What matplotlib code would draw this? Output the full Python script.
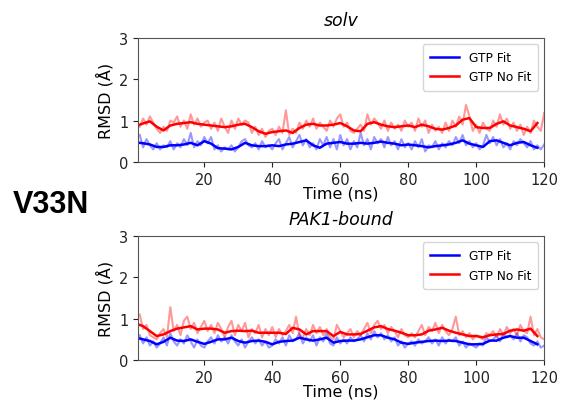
import numpy as np
import matplotlib
matplotlib.use("Agg")
import matplotlib.pyplot as plt

# time axis (ns)
time_raw = np.arange(1, 121)
time_smooth = [1] + list(range(2, 119, 2))

# solv panel
solv_fit_raw = [
    0.65, 0.35, 0.55, 0.40, 0.30, 0.45, 0.30, 0.40, 0.35, 0.50,
    0.30, 0.45, 0.35, 0.55, 0.40, 0.70, 0.35, 0.50, 0.40, 0.60,
    0.45, 0.60, 0.30, 0.40, 0.25, 0.35, 0.30, 0.40, 0.25, 0.35,
    0.50, 0.55, 0.40, 0.35, 0.45, 0.30, 0.50, 0.35, 0.40, 0.30,
    0.45, 0.55, 0.30, 0.45, 0.60, 0.35, 0.50, 0.65, 0.40, 0.55,
    0.35, 0.45, 0.30, 0.55, 0.40, 0.60, 0.35, 0.55, 0.30, 0.65,
    0.40, 0.55, 0.30, 0.50, 0.35, 0.70, 0.40, 0.55, 0.30, 0.60,
    0.45, 0.55, 0.35, 0.60, 0.40, 0.50, 0.30, 0.55, 0.35, 0.45,
    0.30, 0.50, 0.35, 0.55, 0.25, 0.40, 0.35, 0.50, 0.30, 0.45,
    0.35, 0.50, 0.40, 0.60, 0.45, 0.65, 0.40, 0.50, 0.35, 0.45,
    0.30, 0.40, 0.65, 0.45, 0.60, 0.40, 0.55, 0.35, 0.45, 0.30,
    0.50, 0.40, 0.55, 0.45, 0.35, 0.50, 0.30, 0.40, 0.30, 0.42]
solv_nofit_raw = [
    0.85, 1.05, 0.90, 1.10, 0.95, 0.80, 0.70, 0.85, 0.75, 1.00,
    0.95, 1.10, 0.85, 1.00, 0.80, 1.15, 0.90, 1.05, 0.85, 0.95,
    1.00, 0.80, 0.95, 0.75, 1.05, 0.85, 0.70, 1.00, 0.80, 1.05,
    0.90, 1.00, 0.95, 0.70, 0.85, 0.65, 0.80, 0.60, 0.75, 0.80,
    0.65, 0.85, 0.70, 1.25, 0.65, 0.80, 0.70, 0.95, 0.80, 1.00,
    0.85, 1.05, 0.80, 0.95, 0.85, 0.75, 1.00, 0.85, 1.05, 1.15,
    0.85, 0.95, 0.75, 0.70, 0.80, 0.90, 0.75, 1.15, 0.90, 1.05,
    0.95, 0.80, 1.00, 0.75, 0.95, 0.80, 0.90, 0.75, 1.00, 0.85,
    0.95, 0.75, 1.05, 0.85, 1.00, 0.70, 0.90, 0.75, 0.85, 0.70,
    0.95, 0.75, 1.00, 0.85, 1.10, 0.90, 1.38, 1.10, 0.75, 0.90,
    0.70, 0.95, 0.80, 0.75, 1.00, 0.85, 1.15, 0.90, 1.05, 0.80,
    0.95, 0.75, 0.90, 0.65, 0.85, 0.70, 1.00, 0.85, 0.75, 1.18]
solv_fit_smooth = [
    0.46, 0.45, 0.42, 0.36, 0.36, 0.40, 0.40, 0.42, 0.46, 0.40,
    0.50, 0.44, 0.33, 0.32, 0.30, 0.36, 0.46, 0.40, 0.38, 0.38,
    0.40, 0.38, 0.42, 0.44, 0.48, 0.52, 0.40, 0.34, 0.44, 0.46,
    0.48, 0.44, 0.44, 0.46, 0.44, 0.46, 0.49, 0.46, 0.44, 0.40,
    0.42, 0.40, 0.38, 0.35, 0.38, 0.40, 0.42, 0.46, 0.52, 0.44,
    0.40, 0.36, 0.50, 0.52, 0.46, 0.40, 0.46, 0.48, 0.40, 0.34]
solv_nofit_smooth = [
    0.90, 0.93, 0.98, 0.85, 0.76, 0.88, 0.92, 0.94, 0.96, 0.92,
    0.90, 0.88, 0.86, 0.84, 0.86, 0.90, 0.92, 0.84, 0.74, 0.68,
    0.72, 0.74, 0.76, 0.70, 0.82, 0.90, 0.92, 0.88, 0.88, 0.90,
    0.94, 0.86, 0.76, 0.74, 0.92, 0.96, 0.90, 0.86, 0.84, 0.86,
    0.88, 0.84, 0.90, 0.86, 0.80, 0.78, 0.82, 0.88, 1.02, 1.06,
    0.84, 0.82, 0.82, 0.92, 0.98, 0.88, 0.84, 0.80, 0.74, 0.94]

# PAK1-bound panel
pak_fit_raw = [
    0.60, 0.40, 0.55, 0.35, 0.45, 0.30, 0.40, 0.55, 0.35, 0.65,
    0.45, 0.35, 0.50, 0.40, 0.60, 0.45, 0.30, 0.50, 0.35, 0.30,
    0.45, 0.55, 0.40, 0.60, 0.45, 0.55, 0.40, 0.60, 0.45, 0.35,
    0.50, 0.30, 0.45, 0.55, 0.40, 0.50, 0.35, 0.45, 0.30, 0.35,
    0.50, 0.40, 0.55, 0.35, 0.60, 0.45, 0.50, 0.65, 0.40, 0.55,
    0.45, 0.60, 0.35, 0.55, 0.45, 0.65, 0.40, 0.35, 0.55, 0.40,
    0.50, 0.40, 0.55, 0.45, 0.50, 0.60, 0.45, 0.65, 0.50, 0.70,
    0.55, 0.65, 0.50, 0.60, 0.45, 0.55, 0.35, 0.45, 0.30, 0.40,
    0.45, 0.35, 0.50, 0.40, 0.45, 0.55, 0.40, 0.50, 0.35, 0.55,
    0.40, 0.50, 0.45, 0.55, 0.35, 0.45, 0.30, 0.40, 0.35, 0.30,
    0.40, 0.35, 0.55, 0.45, 0.50, 0.60, 0.45, 0.65, 0.55, 0.60,
    0.50, 0.65, 0.45, 0.60, 0.55, 0.40, 0.35, 0.45, 0.30, 0.35]
pak_nofit_raw = [
    1.10, 0.75, 0.85, 0.60, 0.55, 0.50, 0.65, 0.75, 0.55, 1.28,
    0.70, 0.85, 0.60, 0.95, 1.05, 0.75, 0.90, 0.65, 0.80, 0.95,
    0.70, 0.85, 0.65, 0.90, 0.75, 0.55, 0.80, 0.95, 0.60, 0.85,
    0.70, 0.90, 0.55, 0.75, 0.65, 0.85, 0.55, 0.75, 0.60, 0.80,
    0.55, 0.75, 0.60, 0.70, 0.85, 0.65, 1.05, 0.60, 0.55, 0.75,
    0.60, 0.85, 0.65, 0.80, 0.60, 0.75, 0.55, 0.50, 0.85, 0.70,
    0.55, 0.65, 0.75, 0.55, 0.70, 0.60, 0.75, 0.90, 0.65, 0.85,
    0.95, 0.75, 0.85, 0.65, 0.80, 0.70, 0.55, 0.75, 0.60, 0.55,
    0.65, 0.55, 0.70, 0.85, 0.60, 0.80, 0.70, 0.90, 0.65, 0.85,
    0.70, 0.60, 0.75, 1.05, 0.60, 0.70, 0.55, 0.65, 0.50, 0.60,
    0.55, 0.50, 0.65, 0.60, 0.70, 0.55, 0.75, 0.60, 0.80, 0.65,
    0.75, 0.60, 0.85, 0.70, 0.65, 1.05, 0.60, 0.75, 0.55, 0.50]
pak_fit_smooth = [
    0.52, 0.50, 0.46, 0.38, 0.44, 0.54, 0.47, 0.46, 0.50, 0.44,
    0.39, 0.44, 0.50, 0.50, 0.54, 0.46, 0.42, 0.46, 0.47, 0.44,
    0.38, 0.44, 0.46, 0.47, 0.54, 0.50, 0.47, 0.50, 0.54, 0.42,
    0.46, 0.47, 0.47, 0.50, 0.55, 0.60, 0.60, 0.54, 0.50, 0.42,
    0.39, 0.42, 0.44, 0.46, 0.47, 0.46, 0.47, 0.46, 0.42, 0.38,
    0.38, 0.39, 0.47, 0.47, 0.54, 0.58, 0.54, 0.54, 0.46, 0.38]
pak_nofit_smooth = [
    0.85, 0.82, 0.70, 0.58, 0.62, 0.70, 0.76, 0.79, 0.82, 0.74,
    0.76, 0.76, 0.74, 0.66, 0.70, 0.71, 0.70, 0.71, 0.66, 0.66,
    0.66, 0.66, 0.63, 0.78, 0.74, 0.62, 0.70, 0.70, 0.70, 0.58,
    0.68, 0.62, 0.62, 0.63, 0.71, 0.79, 0.82, 0.75, 0.71, 0.66,
    0.60, 0.60, 0.62, 0.71, 0.74, 0.78, 0.71, 0.66, 0.62, 0.58,
    0.58, 0.55, 0.60, 0.62, 0.63, 0.71, 0.74, 0.71, 0.76, 0.58]

panels = [
    ("solv", solv_fit_raw, solv_nofit_raw, solv_fit_smooth, solv_nofit_smooth),
    ("PAK1-bound", pak_fit_raw, pak_nofit_raw, pak_fit_smooth, pak_nofit_smooth),
]

BLUE = "#0000ff"
RED = "#ff0000"

fig = plt.figure(figsize=(5.61, 4.02), dpi=100)
fig.patch.set_facecolor("white")

axes = [fig.add_axes([0.246, 0.595, 0.724, 0.308]),
        fig.add_axes([0.246, 0.102, 0.724, 0.308])]

for ax, (title, fit_raw, nofit_raw, fit_s, nofit_s) in zip(axes, panels):
    ax.plot(time_raw, fit_raw, color=BLUE, alpha=0.4, lw=1.5)
    ax.plot(time_raw, nofit_raw, color=RED, alpha=0.4, lw=1.5)
    ax.plot(time_smooth, fit_s, color=BLUE, lw=1.8, label="GTP Fit")
    ax.plot(time_smooth, nofit_s, color=RED, lw=1.8, label="GTP No Fit")

    ax.set_xlim(0.5, 120)
    ax.set_ylim(0, 3)
    ax.set_xticks([20, 40, 60, 80, 100, 120])
    ax.set_yticks([0, 1, 2, 3])
    ax.tick_params(labelsize=10.5, colors="#222222")
    for s in ax.spines.values():
        s.set_color("#555555")
    ax.set_xlabel("Time (ns)", fontsize=11.5, labelpad=-1)
    ax.set_ylabel("RMSD (Å)", fontsize=11.5)
    ax.set_title(title, fontsize=12.5, style="italic", pad=9)
    ax.legend(loc="upper right", fontsize=8.7, frameon=True,
              handlelength=2.4, borderpad=0.6, labelspacing=0.5)

fig.text(0.022, 0.49, "V33N", fontsize=22, fontweight="bold",
         family="Liberation Sans", va="center", ha="left")

plt.savefig("out.png", dpi=100)
